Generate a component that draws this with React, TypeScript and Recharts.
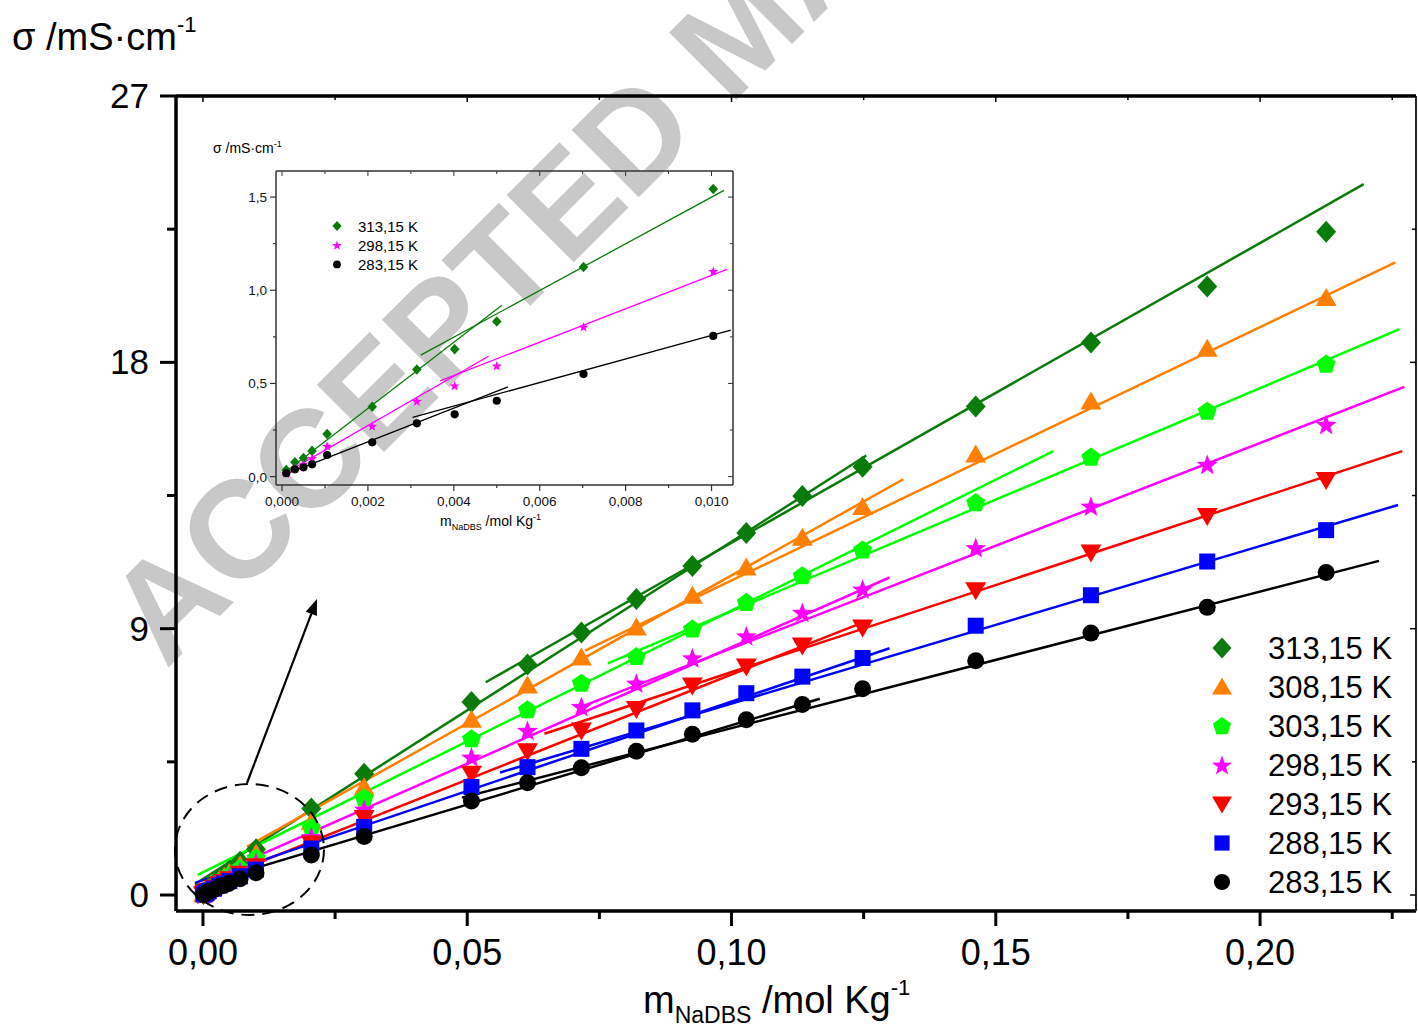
import React from "react";
import { ComposedChart, Scatter, Line, XAxis, YAxis, Legend } from "recharts";

const FONT = "'Liberation Sans', Arial, Helvetica, sans-serif";

// ---- concentrations (mol/kg) ----
const concLow = [0.0001, 0.0003, 0.0005, 0.0007, 0.00105, 0.0021, 0.00314, 0.00402, 0.005, 0.00702, 0.01004];
const concHigh = [0.0205, 0.0305, 0.0508, 0.0614, 0.0716, 0.082, 0.0926, 0.1028, 0.1134, 0.1248, 0.1462, 0.168, 0.19, 0.2125];

// ---- conductivity (mS/cm) ----
const s313Low = [0.036, 0.077, 0.1, 0.138, 0.229, 0.375, 0.575, 0.684, 0.832, 1.125, 1.543];
const s313High = [2.92, 4.1, 6.52, 7.79, 8.87, 10.0, 11.12, 12.23, 13.48, 14.47, 16.51, 18.67, 20.56, 22.41];
const s308Low = [0.03, 0.068, 0.09, 0.125, 0.205, 0.335, 0.515, 0.615, 0.75, 1.01, 1.4];
const s308High = [2.47, 3.64, 5.92, 7.08, 8.03, 9.04, 10.11, 11.07, 12.07, 13.11, 14.89, 16.68, 18.46, 20.17];
const s303Low = [0.025, 0.058, 0.08, 0.112, 0.185, 0.3, 0.46, 0.55, 0.67, 0.905, 1.25];
const s303High = [2.28, 3.28, 5.28, 6.26, 7.16, 8.06, 8.99, 9.89, 10.79, 11.66, 13.26, 14.8, 16.35, 17.94];
const s298Low = [0.018, 0.045, 0.068, 0.098, 0.164, 0.271, 0.405, 0.488, 0.595, 0.804, 1.102];
const s298High = [1.97, 2.9, 4.66, 5.56, 6.37, 7.16, 8.01, 8.76, 9.55, 10.34, 11.74, 13.14, 14.55, 15.9];
const s293Low = [0.018, 0.042, 0.062, 0.088, 0.148, 0.243, 0.365, 0.438, 0.53, 0.715, 0.975];
const s293High = [1.74, 2.6, 4.1, 4.86, 5.56, 6.29, 7.08, 7.72, 8.43, 9.04, 10.3, 11.57, 12.81, 14.02];
const s288Low = [0.018, 0.04, 0.056, 0.077, 0.132, 0.214, 0.325, 0.386, 0.468, 0.632, 0.86];
const s288High = [1.57, 2.3, 3.65, 4.32, 4.94, 5.56, 6.24, 6.82, 7.38, 8.01, 9.1, 10.13, 11.27, 12.33];
const s283Low = [0.018, 0.039, 0.05, 0.066, 0.116, 0.184, 0.286, 0.334, 0.407, 0.55, 0.755];
const s283High = [1.35, 1.98, 3.18, 3.79, 4.3, 4.86, 5.43, 5.92, 6.44, 6.97, 7.92, 8.85, 9.72, 10.9];

// ---- linear fits, main chart (two segments per temperature) ----
const fit313A = [{ x: -0.0015, y: 0.37 }, { x: 0.1255, y: 14.85 }];
const fit313B = [{ x: 0.0535, y: 7.19 }, { x: 0.2196, y: 24.02 }];
const fit308A = [{ x: 0.0083, y: 1.63 }, { x: 0.1325, y: 14.05 }];
const fit308B = [{ x: 0.0723, y: 8.26 }, { x: 0.2256, y: 21.38 }];
const fit303A = [{ x: -0.001, y: 0.68 }, { x: 0.1609, y: 15.0 }];
const fit303B = [{ x: 0.0766, y: 7.83 }, { x: 0.2264, y: 19.12 }];
const fit298A = [{ x: 0.0062, y: 0.99 }, { x: 0.1299, y: 10.73 }];
const fit298B = [{ x: 0.0714, y: 6.35 }, { x: 0.2273, y: 17.17 }];
const fit293A = [{ x: -0.0015, y: 0.24 }, { x: 0.1245, y: 9.19 }];
const fit293B = [{ x: 0.0646, y: 5.45 }, { x: 0.2269, y: 15.0 }];
const fit288A = [{ x: -0.0015, y: 0.41 }, { x: 0.1299, y: 8.34 }];
const fit288B = [{ x: 0.0562, y: 4.14 }, { x: 0.2261, y: 13.18 }];
const fit283A = [{ x: -0.0015, y: 0.3 }, { x: 0.1167, y: 6.63 }];
const fit283B = [{ x: 0.049, y: 3.29 }, { x: 0.2225, y: 11.29 }];

// ---- linear fits, inset ----
const ins313A = [{ x: 0.00004, y: 0.018 }, { x: 0.00512, y: 0.92 }];
const ins313B = [{ x: 0.00323, y: 0.652 }, { x: 0.01029, y: 1.536 }];
const ins298A = [{ x: 0.0, y: 0.009 }, { x: 0.00481, y: 0.646 }];
const ins298B = [{ x: 0.00368, y: 0.514 }, { x: 0.01036, y: 1.112 }];
const ins283A = [{ x: 0.00004, y: 0.009 }, { x: 0.00526, y: 0.482 }];
const ins283B = [{ x: 0.00304, y: 0.318 }, { x: 0.01045, y: 0.786 }];

// ---- ticks ----
const mainXTicks = [0, 0.025, 0.05, 0.075, 0.1, 0.125, 0.15, 0.175, 0.2, 0.225];
const mainYTicks = [0, 4.5, 9, 13.5, 18, 22.5, 27];
const insetXTicks = [0, 0.001, 0.002, 0.003, 0.004, 0.005, 0.006, 0.007, 0.008, 0.009, 0.01];
const insetYTicks = [0, 0.25, 0.5, 0.75, 1.0, 1.25, 1.5];

const names = ["313,15 K", "308,15 K", "303,15 K", "298,15 K", "293,15 K", "288,15 K", "283,15 K"];
const colors = ["#0a7a0a", "#ff8000", "#00ff00", "#ff00ff", "#ff0000", "#0000ff", "#000000"];
const shapes = ["diamond", "triangle", "pentagon", "star", "triangleDown", "square", "circle"];

const toPts = (xs: number[], ys: number[]) => xs.map((x, i) => ({ x, y: ys[i] }));
const full = (lo: number[], hi: number[]) => [...toPts(concLow, lo), ...toPts(concHigh, hi)];

const series = [
  { data: full(s313Low, s313High), fits: [fit313A, fit313B] },
  { data: full(s308Low, s308High), fits: [fit308A, fit308B] },
  { data: full(s303Low, s303High), fits: [fit303A, fit303B] },
  { data: full(s298Low, s298High), fits: [fit298A, fit298B] },
  { data: full(s293Low, s293High), fits: [fit293A, fit293B] },
  { data: full(s288Low, s288High), fits: [fit288A, fit288B] },
  { data: full(s283Low, s283High), fits: [fit283A, fit283B] },
].map((s, i) => ({ ...s, name: names[i], color: colors[i], shape: shapes[i] }));

const insetSeries = [
  { idx: 0, data: toPts(concLow, s313Low), fits: [ins313A, ins313B] },
  { idx: 3, data: toPts(concLow, s298Low), fits: [ins298A, ins298B] },
  { idx: 6, data: toPts(concLow, s283Low), fits: [ins283A, ins283B] },
];

// ---- markers ----
function Marker({ kind, cx, cy, s, color }: any) {
  if (cx == null || cy == null || isNaN(cx) || isNaN(cy)) return null;
  switch (kind) {
    case "diamond":
      return <polygon points={`${cx},${cy - s * 1.1} ${cx + s},${cy} ${cx},${cy + s * 1.1} ${cx - s},${cy}`} fill={color} />;
    case "triangle":
      return <polygon points={`${cx},${cy - s} ${cx + s * 1.05},${cy + s * 0.8} ${cx - s * 1.05},${cy + s * 0.8}`} fill={color} />;
    case "triangleDown":
      return <polygon points={`${cx},${cy + s} ${cx + s * 1.05},${cy - s * 0.8} ${cx - s * 1.05},${cy - s * 0.8}`} fill={color} />;
    case "pentagon": {
      const pts = [0, 1, 2, 3, 4]
        .map((k) => {
          const a = ((-90 + 72 * k) * Math.PI) / 180;
          return `${cx + s * Math.cos(a)},${cy + s * Math.sin(a) + s * 0.05}`;
        })
        .join(" ");
      return <polygon points={pts} fill={color} />;
    }
    case "star": {
      const pts: string[] = [];
      for (let k = 0; k < 10; k++) {
        const r = k % 2 === 0 ? s * 1.1 : s * 0.45;
        const a = ((-90 + 36 * k) * Math.PI) / 180;
        pts.push(`${cx + r * Math.cos(a)},${cy + r * Math.sin(a) + s * 0.1}`);
      }
      return <polygon points={pts.join(" ")} fill={color} />;
    }
    case "square":
      return <rect x={cx - s * 0.8} y={cy - s * 0.8} width={s * 1.6} height={s * 1.6} fill={color} />;
    default:
      return <circle cx={cx} cy={cy} r={s * 0.85} fill={color} />;
  }
}

const near = (a: number, b: number) => Math.abs(a - b) < 1e-9;
const comma = (v: number, d: number) => v.toFixed(d).replace(".", ",");

// ---- main ticks ----
const MainXTick = (p: any) => {
  const v = p.payload.value;
  const major = near(Math.round(v / 0.05) * 0.05, v);
  return (
    <g>
      <line x1={p.x} x2={p.x} y1={p.y} y2={p.y + (major ? 15 : 8)} stroke="#000" strokeWidth={3} />
      {major && (
        <text x={p.x} y={p.y + 54} textAnchor="middle" fontSize={36} fontFamily={FONT} fill="#000">
          {comma(v, 2)}
        </text>
      )}
    </g>
  );
};
const MainYTick = (p: any) => {
  const v = p.payload.value;
  const major = near(Math.round(v / 9) * 9, v);
  return (
    <g>
      <line x1={p.x - (major ? 16 : 9)} x2={p.x} y1={p.y} y2={p.y} stroke="#000" strokeWidth={3} />
      {major && (
        <text x={p.x - 27} y={p.y + 12} textAnchor="end" fontSize={35} fontFamily={FONT} fill="#000">
          {v}
        </text>
      )}
    </g>
  );
};
const MainTopTick = (p: any) => {
  const major = near(Math.round(p.payload.value / 0.05) * 0.05, p.payload.value);
  return <line x1={p.x} x2={p.x} y1={p.y} y2={p.y + (major ? 6 : 4)} stroke="#000" strokeWidth={1.5} />;
};
const MainRightTick = (p: any) => {
  const major = near(Math.round(p.payload.value / 9) * 9, p.payload.value);
  return <line x1={p.x - (major ? 6 : 4)} x2={p.x} y1={p.y} y2={p.y} stroke="#000" strokeWidth={1.5} />;
};

// ---- inset ticks ----
const InsetXTick = (p: any) => {
  const v = p.payload.value;
  const major = Math.round(v * 1000) % 2 === 0;
  return (
    <g>
      <line x1={p.x} x2={p.x} y1={p.y} y2={p.y + (major ? 6 : 3)} stroke="#333" strokeWidth={1.2} />
      {major && (
        <text x={p.x} y={p.y + 21} textAnchor="middle" fontSize={13.5} fontFamily={FONT} fill="#111">
          {comma(v, 3)}
        </text>
      )}
    </g>
  );
};
const InsetYTick = (p: any) => {
  const v = p.payload.value;
  const major = near(Math.round(v * 2) / 2, v);
  return (
    <g>
      <line x1={p.x - (major ? 6 : 3)} x2={p.x} y1={p.y} y2={p.y} stroke="#333" strokeWidth={1.2} />
      {major && (
        <text x={p.x - 9} y={p.y + 5} textAnchor="end" fontSize={13.5} fontFamily={FONT} fill="#111">
          {comma(v, 1)}
        </text>
      )}
    </g>
  );
};
const InsetTopTick = (p: any) => {
  const major = Math.round(p.payload.value * 1000) % 2 === 0;
  return <line x1={p.x} x2={p.x} y1={p.y} y2={p.y + (major ? 5 : 3)} stroke="#333" strokeWidth={1} />;
};
const InsetRightTick = (p: any) => {
  const v = p.payload.value;
  const major = near(Math.round(v * 2) / 2, v);
  return <line x1={p.x - (major ? 5 : 3)} x2={p.x} y1={p.y} y2={p.y} stroke="#333" strokeWidth={1} />;
};

// ---- legends ----
const MainLegend = () => (
  <svg width={226} height={290} style={{ overflow: "visible" }}>
    {series.map((s, i) => (
      <g key={s.name}>
        <Marker kind={s.shape} cx={32} cy={28 + i * 39} s={9.5} color={s.color} />
        <text x={78} y={28 + i * 39 + 11} fontSize={31} fontFamily={FONT} fill="#000">
          {s.name}
        </text>
      </g>
    ))}
  </svg>
);
const InsetLegend = () => (
  <svg width={120} height={70} style={{ overflow: "visible" }}>
    {insetSeries.map((s, i) => (
      <g key={i}>
        <Marker kind={shapes[s.idx]} cx={9} cy={10 + i * 19.2} s={4.6} color={colors[s.idx]} />
        <text x={30} y={10 + i * 19.2 + 5.5} fontSize={15} fontFamily={FONT} fill="#000">
          {names[s.idx]}
        </text>
      </g>
    ))}
  </svg>
);

const MX: [number, number] = [-0.0051, 0.2295];
const MY: [number, number] = [-0.54, 27];
const IX: [number, number] = [-0.00014, 0.0105];
const IY: [number, number] = [-0.045, 1.64];

export default function App() {
  const abs = (z: number): React.CSSProperties => ({ position: "absolute", left: 0, top: 0, zIndex: z });
  // arrow geometry (annotation)
  const ax1 = 247, ay1 = 783, ax2 = 317, ay2 = 599;
  const ang = Math.atan2(ay2 - ay1, ax2 - ax1);
  const hl = 16, hw = 6;
  const bx = ax2 - hl * Math.cos(ang), by = ay2 - hl * Math.sin(ang);
  const head = `${ax2},${ay2} ${bx + hw * Math.sin(ang)},${by - hw * Math.cos(ang)} ${bx - hw * Math.sin(ang)},${by + hw * Math.cos(ang)}`;

  return (
    <div style={{ position: "absolute", left: 0, top: 0, width: 1418, height: 1036, background: "#fff", fontFamily: FONT }}>
      {/* watermark */}
      <svg width={1418} height={1036} style={abs(0)}>
        <text
          x={166}
          y={670}
          transform="rotate(-45 166 670)"
          fontSize={138}
          fontWeight="bold"
          fontFamily={FONT}
          fill="#c8c8c8"
        >
          ACCEPTED MANUSCRIPT
        </text>
      </svg>

      {/* main chart */}
      <div style={abs(1)}>
        <ComposedChart width={1418} height={1036} margin={{ top: 95, right: 1, bottom: 0, left: 0 }}>
          <XAxis
            dataKey="x"
            type="number"
            domain={MX}
            allowDataOverflow
            ticks={mainXTicks}
            interval={0}
            height={125}
            tickSize={0}
            tickMargin={0}
            tickLine={false}
            tick={MainXTick}
            axisLine={{ stroke: "#000", strokeWidth: 3.5 }}
          />
          <XAxis
            xAxisId="top"
            orientation="top"
            dataKey="x"
            type="number"
            domain={MX}
            allowDataOverflow
            ticks={mainXTicks}
            interval={0}
            height={1}
            tickSize={0}
            tickMargin={0}
            tickLine={false}
            tick={MainTopTick}
            axisLine={{ stroke: "#000", strokeWidth: 3.5 }}
          />
          <YAxis
            dataKey="y"
            type="number"
            domain={MY}
            allowDataOverflow
            ticks={mainYTicks}
            interval={0}
            width={176}
            tickSize={0}
            tickMargin={0}
            tickLine={false}
            tick={MainYTick}
            axisLine={{ stroke: "#000", strokeWidth: 3.5 }}
          />
          <YAxis
            yAxisId="right"
            orientation="right"
            dataKey="y"
            type="number"
            domain={MY}
            allowDataOverflow
            ticks={mainYTicks}
            interval={0}
            width={1}
            tickSize={0}
            tickMargin={0}
            tickLine={false}
            tick={MainRightTick}
            axisLine={{ stroke: "#222", strokeWidth: 2 }}
          />
          {series.map((s) => (
            <Scatter
              key={"sc" + s.name}
              name={s.name}
              data={s.data}
              dataKey="y"
              fill={s.color}
              isAnimationActive={false}
              shape={(p: any) => <Marker kind={s.shape} cx={p.cx} cy={p.cy} s={10} color={s.color} />}
            />
          ))}
          {series.map((s) =>
            s.fits.map((f, j) => (
              <Line
                key={"ln" + s.name + j}
                data={f}
                dataKey="y"
                type="linear"
                stroke={s.color}
                strokeWidth={2.5}
                dot={false}
                activeDot={false}
                legendType="none"
                isAnimationActive={false}
              />
            ))
          )}
          <Legend
            layout="horizontal"
            verticalAlign="middle"
            align="center"
            wrapperStyle={{ position: "absolute", left: 1190, top: 620, width: 226, height: 290 }}
            content={() => <MainLegend />}
          />
        </ComposedChart>
      </div>

      {/* inset chart */}
      <div style={abs(2)}>
        <ComposedChart width={740} height={540} margin={{ top: 170, right: 6, bottom: 0, left: 0 }}>
          <XAxis
            dataKey="x"
            type="number"
            domain={IX}
            allowDataOverflow
            ticks={insetXTicks}
            interval={0}
            height={55}
            tickSize={0}
            tickMargin={0}
            tickLine={false}
            tick={InsetXTick}
            axisLine={{ stroke: "#333", strokeWidth: 1.5 }}
          />
          <XAxis
            xAxisId="top"
            orientation="top"
            dataKey="x"
            type="number"
            domain={IX}
            allowDataOverflow
            ticks={insetXTicks}
            interval={0}
            height={1}
            tickSize={0}
            tickMargin={0}
            tickLine={false}
            tick={InsetTopTick}
            axisLine={{ stroke: "#333", strokeWidth: 1.5 }}
          />
          <YAxis
            dataKey="y"
            type="number"
            domain={IY}
            allowDataOverflow
            ticks={insetYTicks}
            interval={0}
            width={276}
            tickSize={0}
            tickMargin={0}
            tickLine={false}
            tick={InsetYTick}
            axisLine={{ stroke: "#333", strokeWidth: 1.5 }}
          />
          <YAxis
            yAxisId="right"
            orientation="right"
            dataKey="y"
            type="number"
            domain={IY}
            allowDataOverflow
            ticks={insetYTicks}
            interval={0}
            width={1}
            tickSize={0}
            tickMargin={0}
            tickLine={false}
            tick={InsetRightTick}
            axisLine={{ stroke: "#333", strokeWidth: 1.5 }}
          />
          {insetSeries.map((s) => (
            <Scatter
              key={"isc" + s.idx}
              name={names[s.idx]}
              data={s.data}
              dataKey="y"
              fill={colors[s.idx]}
              isAnimationActive={false}
              shape={(p: any) => <Marker kind={shapes[s.idx]} cx={p.cx} cy={p.cy} s={4.8} color={colors[s.idx]} />}
            />
          ))}
          {insetSeries.map((s) =>
            s.fits.map((f, j) => (
              <Line
                key={"iln" + s.idx + j}
                data={f}
                dataKey="y"
                type="linear"
                stroke={colors[s.idx]}
                strokeWidth={1.3}
                dot={false}
                activeDot={false}
                legendType="none"
                isAnimationActive={false}
              />
            ))
          )}
          <Legend
            layout="horizontal"
            verticalAlign="middle"
            align="center"
            wrapperStyle={{ position: "absolute", left: 328, top: 216, width: 120, height: 70 }}
            content={() => <InsetLegend />}
          />
        </ComposedChart>
      </div>

      {/* annotations & axis titles */}
      <svg width={1418} height={1036} style={{ ...abs(3), pointerEvents: "none" }}>
        <text x={12} y={50} fontSize={38} fontFamily={FONT} fill="#000">
          σ /mS·cm<tspan fontSize={22} dy={-18}>-1</tspan>
        </text>
        <text x={643} y={1013} fontSize={38} fontFamily={FONT} fill="#000">
          m<tspan fontSize={23} dy={10}>NaDBS</tspan>
          <tspan dy={-10}> /mol Kg</tspan>
          <tspan fontSize={22} dy={-18}>-1</tspan>
        </text>
        <text x={213} y={153} fontSize={14} fontFamily={FONT} fill="#000">
          σ /mS·cm<tspan fontSize={9} dy={-6}>-1</tspan>
        </text>
        <text x={440} y={526} fontSize={14} fontFamily={FONT} fill="#000">
          m<tspan fontSize={9} dy={4}>NaDBS</tspan>
          <tspan dy={-4}> /mol Kg</tspan>
          <tspan fontSize={9} dy={-6}>-1</tspan>
        </text>
        <ellipse cx={249.5} cy={849.5} rx={74.5} ry={65.5} fill="none" stroke="#000" strokeWidth={2} strokeDasharray="13 8" />
        <line x1={ax1} y1={ay1} x2={bx} y2={by} stroke="#000" strokeWidth={2.2} />
        <polygon points={head} fill="#000" />
      </svg>
    </div>
  );
}
